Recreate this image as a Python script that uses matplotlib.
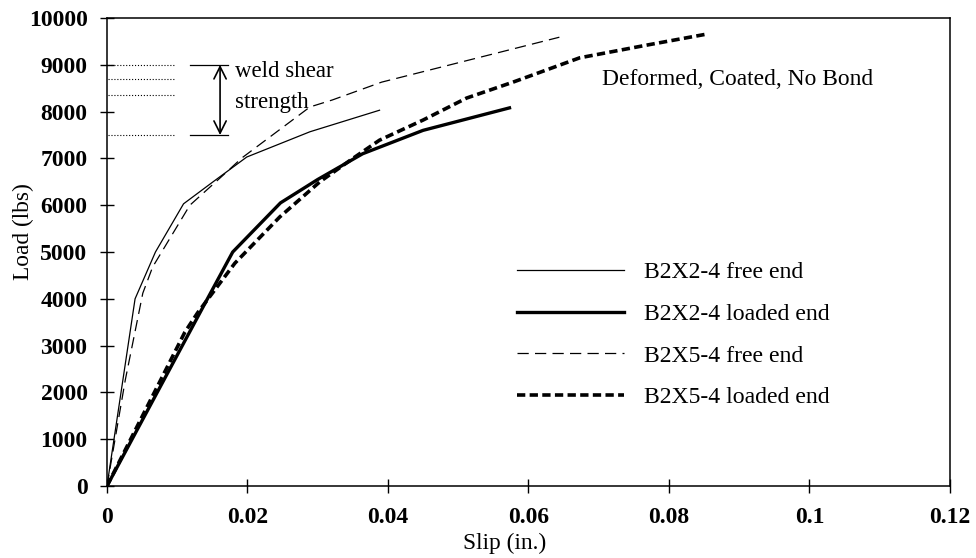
import matplotlib
matplotlib.use("Agg")
import matplotlib.pyplot as plt

plt.rcParams['font.family'] = ['Liberation Serif', 'DejaVu Serif']

# slip (in.) and load (lbs)
b2x2_free_x = [0, 0.0040, 0.0069, 0.0109, 0.0151, 0.0199, 0.0289, 0.0388]
b2x2_free_y = [0, 4000, 5000, 6030, 6500, 7030, 7570, 8030]

b2x2_load_x = [0, 0.0143, 0.0179, 0.0247, 0.0300, 0.0364, 0.0450, 0.0573]
b2x2_load_y = [0, 4000, 5000, 6050, 6550, 7100, 7600, 8080]

b2x5_free_x = [0, 0.0026, 0.0051, 0.0065, 0.0118, 0.0166, 0.0192, 0.0289, 0.0321, 0.0391, 0.0644]
b2x5_free_y = [0, 2260, 4120, 4680, 6000, 6650, 7010, 8100, 8250, 8630, 9590]

b2x5_load_x = [0, 0.0111, 0.0129, 0.0182, 0.0246, 0.0303, 0.0350, 0.0388, 0.0450, 0.0512,
               0.0578, 0.0673, 0.0768, 0.0855]
b2x5_load_y = [0, 3290, 3700, 4760, 5750, 6500, 7000, 7390, 7820, 8290, 8630, 9150, 9420, 9660]

weld_levels = [9000, 8700, 8350, 7500]

x_ticks = [0, 0.02, 0.04, 0.06, 0.08, 0.10, 0.12]
x_labels = ['0', '0.02', '0.04', '0.06', '0.08', '0.1', '0.12']
y_ticks = list(range(0, 10001, 1000))

fig = plt.figure(figsize=(9.76, 5.58), dpi=100)
ax = fig.add_axes([0.1096, 0.129, 0.8637, 0.8387])

ax.plot(b2x2_free_x, b2x2_free_y, color='black', lw=0.9, label='B2X2-4 free end')
ax.plot(b2x2_load_x, b2x2_load_y, color='black', lw=2.4, label='B2X2-4 loaded end')
ax.plot(b2x5_free_x, b2x5_free_y, color='black', lw=0.9, dashes=(9, 5),
        label='B2X5-4 free end')
ax.plot(b2x5_load_x, b2x5_load_y, color='black', lw=2.6, dashes=(2.3, 1.2),
        label='B2X5-4 loaded end')

# weld shear strength band
for lev in weld_levels:
    ax.plot([0.0002, 0.0097], [lev, lev], color='black', lw=0.8, ls=':')
for lev in (weld_levels[0], weld_levels[-1]):
    ax.plot([0.0118, 0.0172], [lev, lev], color='black', lw=0.9)
ax.annotate('', xy=(0.0161, weld_levels[-1]), xytext=(0.0161, weld_levels[0]),
            arrowprops=dict(arrowstyle='<->', color='black', lw=1.2,
                            mutation_scale=22, shrinkA=0, shrinkB=0))
ax.text(0.0182, 8850, 'weld shear', fontsize=16.5, va='center', ha='left')
ax.text(0.0182, 8200, 'strength', fontsize=16.5, va='center', ha='left')

ax.text(0.0704, 8680, 'Deformed, Coated, No Bond', fontsize=16.9, va='center', ha='left')

ax.set_xlim(0, 0.12)
ax.set_ylim(0, 10000)
ax.set_xticks(x_ticks)
ax.set_xticklabels(x_labels)
ax.set_yticks(y_ticks)
ax.tick_params(direction='inout', length=10, width=1, labelsize=17)
ax.tick_params(axis='x', pad=10)
ax.tick_params(axis='y', pad=9)
for lab in ax.get_xticklabels() + ax.get_yticklabels():
    lab.set_fontweight('bold')

fig.text(505 / 976, 1 - 543 / 558, 'Slip (in.)', fontsize=16.8, ha='center', va='center')
fig.text(23 / 976, 1 - 232 / 558, 'Load (lbs)', fontsize=16.8, ha='center', va='center',
         rotation=90)

for sp in ax.spines.values():
    sp.set_linewidth(1.1)

ax.legend(loc='upper left', bbox_to_anchor=(0.486, 0.479), frameon=False,
          fontsize=17.1, handlelength=4.5, handletextpad=0.85, labelspacing=0.84,
          borderaxespad=0, borderpad=0)

fig.savefig('out.png', dpi=100)
